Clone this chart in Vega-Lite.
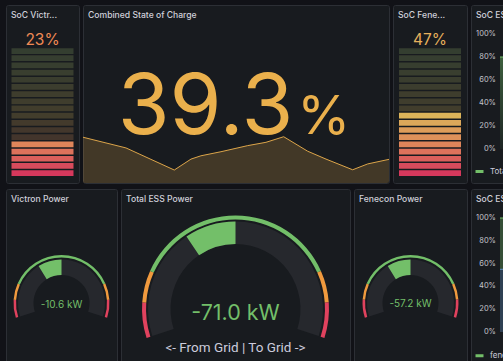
{
  "$schema": "https://vega.github.io/schema/vega-lite/v6.json",
  "background": "#111217",
  "padding": {"left": 5, "top": 4, "right": 0, "bottom": 0},
  "config": {
    "font": "Inter",
    "view": {"fill": "#181b1f", "stroke": "#2c2f35", "strokeWidth": 1, "cornerRadius": 2},
    "concat": {"spacing": 4},
    "title": {"anchor": "start", "frame": "group", "fontSize": 8.6, "fontWeight": 500, "color": "#d0d0da", "font": "Inter", "offset": -15, "dx": 5},
    "legend": {"orient": "none", "legendX": 3, "legendY": 161, "symbolType": "stroke", "symbolStrokeWidth": 3, "symbolSize": 64, "labelFontSize": 8, "labelColor": "#ccccdc", "labelFont": "Inter", "title": null, "padding": 0, "direction": "horizontal", "labelOffset": 5}
  },
  "resolve": {"scale": {"color": "independent", "x": "independent", "y": "independent"}},
  "vconcat": [
    {
      "bounds": "flush",
      "resolve": {"scale": {"color": "independent", "x": "independent", "y": "independent", "opacity": "independent"}, "legend": {"color": "independent"}},
      "hconcat": [
        {
          "width": 73, "height": 178,
          "title": "SoC Victr...",
          "layer": [
            {
              "data": {"values": [
                {"cell": 1, "state": "on"}, {"cell": 2, "state": "on"}, {"cell": 3, "state": "on"}, {"cell": 4, "state": "on"}, {"cell": 5, "state": "on"},
                {"cell": 6, "state": "off"}, {"cell": 7, "state": "off"}, {"cell": 8, "state": "off"}, {"cell": 9, "state": "off"}, {"cell": 10, "state": "off"},
                {"cell": 11, "state": "off"}, {"cell": 12, "state": "off"}, {"cell": 13, "state": "off"}, {"cell": 14, "state": "off"}, {"cell": 15, "state": "off"},
                {"cell": 16, "state": "off"}, {"cell": 17, "state": "off"}, {"cell": 18, "state": "off"}
              ]},
              "mark": {"type": "tick", "thickness": 5.7, "size": 62},
              "encoding": {
                "y": {"field": "cell", "type": "quantitative", "scale": {"domain": [-0.38, 24.41], "nice": false, "zero": false}, "axis": null},
                "color": {"field": "cell", "type": "quantitative", "scale": {"domain": [1, 5, 9, 18], "range": ["#d6385c", "#df855a", "#dcb45a", "#9cbb6f"], "interpolate": "rgb"}, "legend": null},
                "opacity": {"field": "state", "type": "nominal", "scale": {"domain": ["on", "off"], "range": [1, 0.22]}, "legend": null}
              }
            },
            {
              "data": {"values": [{"soc": 0.23}]},
              "mark": {"type": "text", "fontSize": 15.5, "color": "#ef8a55", "baseline": "middle"},
              "encoding": {
                "y": {"datum": 19.54, "type": "quantitative"},
                "text": {"field": "soc", "type": "quantitative", "format": ".0%"}
              }
            }
          ]
        },
        {
          "width": 306, "height": 178,
          "title": "Combined State of Charge",
          "layer": [
            {
              "data": {"values": [
                {"t": 0, "soc": 48.0}, {"t": 3.37, "soc": 43.8}, {"t": 7.16, "soc": 35.1}, {"t": 8.47, "soc": 39.4},
                {"t": 9.25, "soc": 40.7}, {"t": 10.82, "soc": 42.3}, {"t": 12.92, "soc": 44.7}, {"t": 14.35, "soc": 46.0},
                {"t": 15.74, "soc": 48.2}, {"t": 17.62, "soc": 42.5}, {"t": 19.06, "soc": 39.4}, {"t": 21.15, "soc": 35.2},
                {"t": 22.33, "soc": 37.5}, {"t": 24, "soc": 39.3}
              ]},
              "mark": {"type": "area", "clip": true, "fill": "#eab04c", "fillOpacity": 0.2, "line": {"color": "#dca54a", "strokeWidth": 1}},
              "encoding": {
                "x": {"field": "t", "type": "quantitative", "scale": {"domain": [0, 24], "nice": false}, "axis": null},
                "y": {"field": "soc", "type": "quantitative", "scale": {"domain": [30, 100], "zero": false, "nice": false}, "axis": null},
                "y2": {"datum": 30}
              }
            },
            {
              "data": {"values": [{"soc": 39.3}]},
              "mark": {"type": "text", "fontSize": 84, "color": "#eab04c", "align": "right", "baseline": "alphabetic"},
              "encoding": {
                "x": {"datum": 16.5, "type": "quantitative"},
                "y": {"datum": 49.27, "type": "quantitative"},
                "text": {"field": "soc", "type": "quantitative", "format": ".1f"}
              }
            },
            {
              "data": {"values": [{"unit": "%"}]},
              "mark": {"type": "text", "fontSize": 54, "color": "#eab04c", "align": "left", "baseline": "alphabetic"},
              "encoding": {
                "x": {"datum": 16.8, "type": "quantitative"},
                "y": {"datum": 49.27, "type": "quantitative"},
                "text": {"field": "unit"}
              }
            }
          ]
        },
        {
          "width": 74, "height": 178,
          "title": "SoC Fene...",
          "layer": [
            {
              "data": {"values": [
                {"cell": 1, "state": "on"}, {"cell": 2, "state": "on"}, {"cell": 3, "state": "on"}, {"cell": 4, "state": "on"}, {"cell": 5, "state": "on"},
                {"cell": 6, "state": "on"}, {"cell": 7, "state": "on"}, {"cell": 8, "state": "on"}, {"cell": 9, "state": "on"}, {"cell": 10, "state": "off"},
                {"cell": 11, "state": "off"}, {"cell": 12, "state": "off"}, {"cell": 13, "state": "off"}, {"cell": 14, "state": "off"}, {"cell": 15, "state": "off"},
                {"cell": 16, "state": "off"}, {"cell": 17, "state": "off"}, {"cell": 18, "state": "off"}
              ]},
              "mark": {"type": "tick", "thickness": 5.7, "size": 62},
              "encoding": {
                "y": {"field": "cell", "type": "quantitative", "scale": {"domain": [-0.38, 24.41], "nice": false, "zero": false}, "axis": null},
                "color": {"field": "cell", "type": "quantitative", "scale": {"domain": [1, 5, 9, 18], "range": ["#d6385c", "#df855a", "#dcb45a", "#9cbb6f"], "interpolate": "rgb"}, "legend": null},
                "opacity": {"field": "state", "type": "nominal", "scale": {"domain": ["on", "off"], "range": [1, 0.22]}, "legend": null}
              }
            },
            {
              "data": {"values": [{"soc": 0.47}]},
              "mark": {"type": "text", "fontSize": 15.5, "color": "#e6b05c", "baseline": "middle"},
              "encoding": {
                "y": {"datum": 19.54, "type": "quantitative"},
                "text": {"field": "soc", "type": "quantitative", "format": ".0%"}
              }
            }
          ]
        },
        {
          "width": 60, "height": 178,
          "title": "SoC ESS",
          "layer": [
            {
              "data": {"values": [
                {"t": 0, "soc": 80, "series": "Total"}, {"t": 0.5, "soc": 80, "series": "Total"}, {"t": 6, "soc": 78, "series": "Total"},
                {"t": 12, "soc": 74, "series": "Total"}, {"t": 18, "soc": 70, "series": "Total"}, {"t": 24, "soc": 68, "series": "Total"}
              ]},
              "mark": {"type": "area", "clip": true, "fill": {"gradient": "linear", "x1": 0, "y1": 0, "x2": 0, "y2": 1, "stops": [{"offset": 0, "color": "rgba(115,191,105,0.42)"}, {"offset": 1, "color": "rgba(115,191,105,0.06)"}]}},
              "encoding": {
                "x": {"field": "t", "type": "quantitative", "scale": {"domain": [0, 24], "range": [29, 330]}, "axis": null},
                "y": {"field": "soc", "type": "quantitative", "scale": {"domain": [0, 100], "range": [144, 29]}, "axis": null}
              }
            },
            {
              "data": {"values": [
                {"t": 0, "soc": 80, "series": "Total"}, {"t": 0.5, "soc": 80, "series": "Total"}, {"t": 6, "soc": 78, "series": "Total"},
                {"t": 12, "soc": 74, "series": "Total"}, {"t": 18, "soc": 70, "series": "Total"}, {"t": 24, "soc": 68, "series": "Total"}
              ]},
              "mark": {"type": "line", "clip": true, "strokeWidth": 1},
              "encoding": {
                "x": {"field": "t", "type": "quantitative"},
                "y": {"field": "soc", "type": "quantitative"},
                "color": {"field": "series", "type": "nominal", "scale": {"domain": ["Total"], "range": ["#73bf69"]}, "legend": {}}
              }
            },
            {
              "data": {"values": [
                {"soc": 0, "label": "0%"}, {"soc": 20, "label": "20%"}, {"soc": 40, "label": "40%"},
                {"soc": 60, "label": "60%"}, {"soc": 80, "label": "80%"}, {"soc": 100, "label": "100%"}
              ]},
              "mark": {"type": "text", "align": "right", "baseline": "middle", "fontSize": 7.5, "color": "#c4c4cc"},
              "encoding": {
                "x": {"datum": -0.32, "type": "quantitative"},
                "y": {"field": "soc", "type": "quantitative"},
                "text": {"field": "label"}
              }
            }
          ]
        }
      ]
    },
    {
      "bounds": "flush",
      "resolve": {"scale": {"color": "independent", "x": "independent", "y": "independent", "theta": "independent"}, "legend": {"color": "independent"}},
      "hconcat": [
        {
          "width": 111, "height": 228,
          "title": "Victron Power",
          "view": {"fill": "#181b1f", "stroke": "#2c2f35", "strokeWidth": 1, "cornerRadius": 2},
          "layer": [
            {
              "data": {"values": [{"from": -36, "to": 36}]},
              "mark": {"type": "arc", "innerRadius": 28, "outerRadius": 43.5, "color": "#26282d"},
              "encoding": {
                "x": {"datum": 0, "type": "quantitative", "scale": {"domain": [-1, 1]}, "axis": null},
                "y": {"datum": 0, "type": "quantitative", "scale": {"domain": [-1, 1]}, "axis": null},
                "theta": {"field": "from", "type": "quantitative", "stack": null, "scale": {"domain": [-36, 36], "range": [-1.885, 1.885]}},
                "theta2": {"field": "to"}
              }
            },
            {
              "data": {"values": [{"power": -10.6, "label": "-10.6 kW"}]},
              "mark": {"type": "arc", "innerRadius": 28, "outerRadius": 43.5, "color": "#73bf69"},
              "encoding": {
                "x": {"datum": 0, "type": "quantitative"},
                "y": {"datum": 0, "type": "quantitative"},
                "theta": {"field": "power", "type": "quantitative", "stack": null},
                "theta2": {"datum": 0}
              }
            },
            {
              "data": {"values": [
                {"from": -36, "to": -28.7, "level": "red"}, {"from": -28.7, "to": -22, "level": "orange"},
                {"from": -22, "to": 22, "level": "green"}, {"from": 22, "to": 28.7, "level": "orange"}, {"from": 28.7, "to": 36, "level": "red"}
              ]},
              "mark": {"type": "arc", "innerRadius": 45.5, "outerRadius": 48},
              "encoding": {
                "x": {"datum": 0, "type": "quantitative"},
                "y": {"datum": 0, "type": "quantitative"},
                "theta": {"field": "from", "type": "quantitative", "stack": null},
                "theta2": {"field": "to"},
                "color": {"field": "level", "type": "nominal", "scale": {"domain": ["red", "orange", "green"], "range": ["#e0425e", "#f09a3e", "#73bf69"]}, "legend": null}
              }
            },
            {
              "data": {"values": [{"power": -10.6, "label": "-10.6 kW"}]},
              "mark": {"type": "text", "fontSize": 10, "color": "#73bf69", "baseline": "middle"},
              "encoding": {
                "x": {"datum": 0, "type": "quantitative"},
                "y": {"datum": -0.0175, "type": "quantitative"},
                "text": {"field": "label"}
              }
            }
          ]
        },
        {
          "width": 229, "height": 240,
          "title": "Total ESS Power",
          "view": {"fill": "#181b1f", "stroke": "#2c2f35", "strokeWidth": 1, "cornerRadius": 2},
          "layer": [
            {
              "data": {"values": [{"from": -225, "to": 225}]},
              "mark": {"type": "arc", "innerRadius": 65, "outerRadius": 87.5, "color": "#26282d"},
              "encoding": {
                "x": {"datum": 0, "type": "quantitative", "scale": {"domain": [-1, 1]}, "axis": null},
                "y": {"datum": 0, "type": "quantitative", "scale": {"domain": [-1, 1]}, "axis": null},
                "theta": {"field": "from", "type": "quantitative", "stack": null, "scale": {"domain": [-225, 225], "range": [-1.885, 1.885]}},
                "theta2": {"field": "to"}
              }
            },
            {
              "data": {"values": [{"power": -71.0, "label": "-71.0 kW"}]},
              "mark": {"type": "arc", "innerRadius": 65, "outerRadius": 87.5, "color": "#73bf69"},
              "encoding": {
                "x": {"datum": 0, "type": "quantitative"},
                "y": {"datum": 0, "type": "quantitative"},
                "theta": {"field": "power", "type": "quantitative", "stack": null},
                "theta2": {"datum": 0}
              }
            },
            {
              "data": {"values": [
                {"from": -225, "to": -179, "level": "red"}, {"from": -179, "to": -137.5, "level": "orange"},
                {"from": -137.5, "to": 137.5, "level": "green"}, {"from": 137.5, "to": 179, "level": "orange"}, {"from": 179, "to": 225, "level": "red"}
              ]},
              "mark": {"type": "arc", "innerRadius": 89.5, "outerRadius": 93.5},
              "encoding": {
                "x": {"datum": 0, "type": "quantitative"},
                "y": {"datum": 0, "type": "quantitative"},
                "theta": {"field": "from", "type": "quantitative", "stack": null},
                "theta2": {"field": "to"},
                "color": {"field": "level", "type": "nominal", "scale": {"domain": ["red", "orange", "green"], "range": ["#e0425e", "#f09a3e", "#73bf69"]}, "legend": null}
              }
            },
            {
              "data": {"values": [{"power": -71.0, "label": "-71.0 kW"}]},
              "mark": {"type": "text", "fontSize": 21.5, "color": "#73bf69", "baseline": "middle"},
              "encoding": {
                "x": {"datum": 0, "type": "quantitative"},
                "y": {"datum": -0.042, "type": "quantitative"},
                "text": {"field": "label"}
              }
            },
            {
              "data": {"values": [{"caption": "<- From Grid | To Grid ->"}]},
              "mark": {"type": "text", "fontSize": 13.5, "font": "Roboto", "color": "#ccccdc", "baseline": "middle"},
              "encoding": {
                "x": {"datum": 0, "type": "quantitative"},
                "y": {"datum": -0.325, "type": "quantitative"},
                "text": {"field": "caption"}
              }
            }
          ]
        },
        {
          "width": 113, "height": 228,
          "title": "Fenecon Power",
          "view": {"fill": "#181b1f", "stroke": "#2c2f35", "strokeWidth": 1, "cornerRadius": 2},
          "layer": [
            {
              "data": {"values": [{"from": -196, "to": 196}]},
              "mark": {"type": "arc", "innerRadius": 28, "outerRadius": 43.5, "color": "#26282d"},
              "encoding": {
                "x": {"datum": 0, "type": "quantitative", "scale": {"domain": [-1, 1]}, "axis": null},
                "y": {"datum": 0, "type": "quantitative", "scale": {"domain": [-1, 1]}, "axis": null},
                "theta": {"field": "from", "type": "quantitative", "stack": null, "scale": {"domain": [-196, 196], "range": [-1.885, 1.885]}},
                "theta2": {"field": "to"}
              }
            },
            {
              "data": {"values": [{"power": -57.2, "label": "-57.2 kW"}]},
              "mark": {"type": "arc", "innerRadius": 28, "outerRadius": 43.5, "color": "#73bf69"},
              "encoding": {
                "x": {"datum": 0, "type": "quantitative"},
                "y": {"datum": 0, "type": "quantitative"},
                "theta": {"field": "power", "type": "quantitative", "stack": null},
                "theta2": {"datum": 0}
              }
            },
            {
              "data": {"values": [
                {"from": -196, "to": -156, "level": "red"}, {"from": -156, "to": -120, "level": "orange"},
                {"from": -120, "to": 120, "level": "green"}, {"from": 120, "to": 156, "level": "orange"}, {"from": 156, "to": 196, "level": "red"}
              ]},
              "mark": {"type": "arc", "innerRadius": 45.5, "outerRadius": 48},
              "encoding": {
                "x": {"datum": 0, "type": "quantitative"},
                "y": {"datum": 0, "type": "quantitative"},
                "theta": {"field": "from", "type": "quantitative", "stack": null},
                "theta2": {"field": "to"},
                "color": {"field": "level", "type": "nominal", "scale": {"domain": ["red", "orange", "green"], "range": ["#e0425e", "#f09a3e", "#73bf69"]}, "legend": null}
              }
            },
            {
              "data": {"values": [{"power": -57.2, "label": "-57.2 kW"}]},
              "mark": {"type": "text", "fontSize": 10, "color": "#73bf69", "baseline": "middle"},
              "encoding": {
                "x": {"datum": 0, "type": "quantitative"},
                "y": {"datum": -0.009, "type": "quantitative"},
                "text": {"field": "label"}
              }
            }
          ]
        },
        {
          "width": 60, "height": 178,
          "title": "SoC ESS",
          "layer": [
            {
              "data": {"values": [
                {"t": 0, "soc": 45, "series": "fenecon"}, {"t": 0.5, "soc": 45, "series": "fenecon"}, {"t": 12, "soc": 40, "series": "fenecon"}, {"t": 24, "soc": 38, "series": "fenecon"},
                {"t": 0, "soc": 55, "series": "victron"}, {"t": 0.5, "soc": 55, "series": "victron"}, {"t": 12, "soc": 50, "series": "victron"}, {"t": 24, "soc": 48, "series": "victron"}
              ]},
              "mark": {"type": "area", "clip": true, "fillOpacity": 0.32},
              "encoding": {
                "x": {"field": "t", "type": "quantitative", "scale": {"domain": [0, 24], "range": [29, 330]}, "axis": null},
                "y": {"field": "soc", "type": "quantitative", "stack": "zero", "scale": {"domain": [0, 100], "range": [143, 29]}, "axis": null},
                "color": {"field": "series", "type": "nominal", "scale": {"domain": ["fenecon", "victron"], "range": ["#73bf69", "#5f8fc0"]}, "legend": {}},
                "order": {"field": "series", "sort": "descending"}
              }
            },
            {
              "data": {"values": [
                {"t": 0, "soc": 45, "series": "fenecon"}, {"t": 0.5, "soc": 45, "series": "fenecon"}, {"t": 12, "soc": 40, "series": "fenecon"}, {"t": 24, "soc": 38, "series": "fenecon"},
                {"t": 0, "soc": 55, "series": "victron"}, {"t": 0.5, "soc": 55, "series": "victron"}, {"t": 12, "soc": 50, "series": "victron"}, {"t": 24, "soc": 48, "series": "victron"}
              ]},
              "mark": {"type": "line", "clip": true, "strokeWidth": 1},
              "encoding": {
                "x": {"field": "t", "type": "quantitative"},
                "y": {"field": "soc", "type": "quantitative", "stack": "zero"},
                "color": {"field": "series", "type": "nominal"},
                "order": {"field": "series", "sort": "descending"}
              }
            },
            {
              "data": {"values": [
                {"soc": 0, "label": "0%"}, {"soc": 20, "label": "20%"}, {"soc": 40, "label": "40%"},
                {"soc": 60, "label": "60%"}, {"soc": 80, "label": "80%"}, {"soc": 100, "label": "100%"}
              ]},
              "mark": {"type": "text", "align": "right", "baseline": "middle", "fontSize": 7.5, "color": "#c4c4cc"},
              "encoding": {
                "x": {"datum": -0.32, "type": "quantitative"},
                "y": {"field": "soc", "type": "quantitative"},
                "text": {"field": "label"}
              }
            }
          ]
        }
      ]
    }
  ]
}
